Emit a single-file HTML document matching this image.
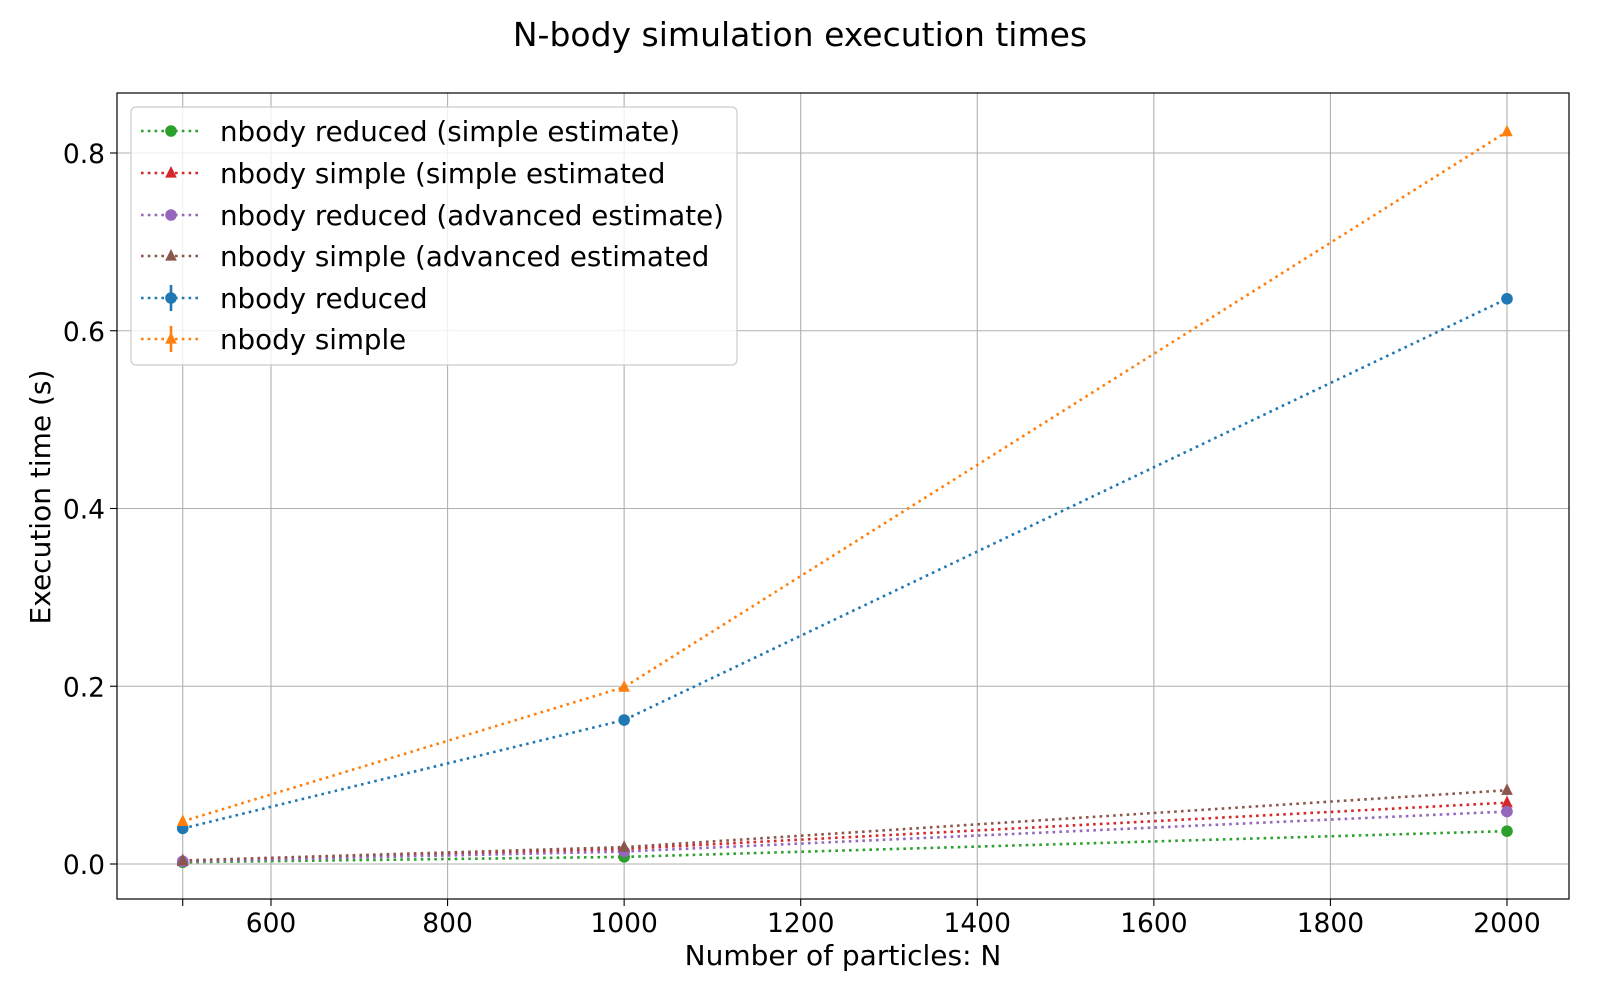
<!DOCTYPE html>
<html><head><meta charset="utf-8"><style>
body{margin:0;background:#fff}
svg text{font-family:"DejaVu Sans","Liberation Sans",sans-serif;fill:#000}
</style></head><body>
<svg id="chart" width="1600" height="1000" xmlns="http://www.w3.org/2000/svg">
<rect width="1600" height="1000" fill="#fff"/>
<text x="800" y="46" font-size="33" text-anchor="middle">N-body simulation execution times</text>
<g id="grid"></g>
<g id="series"></g>
<rect x="117" y="93" width="1452" height="806" fill="none" stroke="#000" stroke-width="1.2"/>
<g id="ticks"></g>
<text x="843" y="965" font-size="28" text-anchor="middle">Number of particles: N</text>
<text transform="translate(50,497) rotate(-90)" font-size="28" text-anchor="middle">Execution time (s)</text>
<g id="legend"></g>
</svg>
<script>
const xValues=[500,1000,2000];
const seriesNames=["nbody reduced (simple estimate)","nbody simple (simple estimated","nbody reduced (advanced estimate)","nbody simple (advanced estimated","nbody reduced","nbody simple"];
const greenVals=[0.002,0.008,0.037];
const redVals=[0.003,0.017,0.069];
const purpleVals=[0.003,0.014,0.059];
const brownVals=[0.004,0.019,0.083];
const blueVals=[0.040,0.162,0.636];
const orangeVals=[0.048,0.199,0.824];
const xTicks=[600,800,1000,1200,1400,1600,1800,2000];
const yTicks=[0.0,0.2,0.4,0.6,0.8];

const NS="http://www.w3.org/2000/svg";
function X(v){return 271+(v-600)*(1507-271)/1400;}
function Y(v){return 864-v*888.75;}
function el(t,a,p){const e=document.createElementNS(NS,t);for(const k in a)e.setAttribute(k,a[k]);p.appendChild(e);return e;}
const grid=document.getElementById('grid'),ticks=document.getElementById('ticks'),ser=document.getElementById('series'),leg=document.getElementById('legend');
xTicks.forEach(t=>{
 const g=el('line',{x1:X(t),x2:X(t),y1:93,y2:899,stroke:'#b0b0b0','stroke-width':1.1},grid);
 
 
 el('line',{x1:X(t),x2:X(t),y1:899,y2:906,stroke:'#000','stroke-width':1.1},ticks);
 const l=el('text',{x:X(t),y:932,'font-size':26.5,'text-anchor':'middle'},ticks);l.textContent=t;
 
 
});
el('line',{x1:X(500),x2:X(500),y1:93,y2:899,stroke:'#b0b0b0','stroke-width':1.1},grid);
el('line',{x1:X(500),x2:X(500),y1:899,y2:906,stroke:'#000','stroke-width':1.1},ticks);
yTicks.forEach(t=>{
 const g=el('line',{x1:117,x2:1569,y1:Y(t),y2:Y(t),stroke:'#b0b0b0','stroke-width':1.1},grid);
 
 
 el('line',{x1:110,x2:117,y1:Y(t),y2:Y(t),stroke:'#000','stroke-width':1.1},ticks);
 const l=el('text',{x:105,y:Y(t)+10,'font-size':26.5,'text-anchor':'end'},ticks);l.textContent=t.toFixed(1);
 
 
});
const defs=[
 {v:greenVals,c:'#2ca02c',m:'o',n:'series-green'},
 {v:redVals,c:'#d62728',m:'^',n:'series-red'},
 {v:purpleVals,c:'#9467bd',m:'o',n:'series-purple'},
 {v:brownVals,c:'#8c564b',m:'^',n:'series-brown'},
 {v:blueVals,c:'#1f77b4',m:'o',n:'series-blue',err:true},
 {v:orangeVals,c:'#ff7f0e',m:'^',n:'series-orange',err:true}];
function marker(p,x,y,c,m,s){
 if(m==='o')return el('circle',{cx:x,cy:y,r:s,fill:c},p);
 return el('polygon',{points:`${x},${y-s*1.2} ${x-s},${y+s*0.8} ${x+s},${y+s*0.8}`,fill:c},p);
}
const order=[4,5,0,1,2,3];
order.forEach(i=>{const d=defs[i];
 const g=el('g',{},ser);
 
 
 const pts=xValues.map((x,j)=>X(x)+','+Y(d.v[j])).join(' ');
 el('polyline',{points:pts,fill:'none',stroke:d.c,'stroke-width':2.6,'stroke-dasharray':'2.6,4.2'},g);
 xValues.forEach((x,j)=>{const m=marker(g,X(x),Y(d.v[j]),d.c,d.m,5.8);
  
  });
});
const box=el('rect',{x:131,y:107,width:606,height:258,rx:5,fill:'#fff','fill-opacity':0.8,stroke:'#ccc','stroke-width':1.2},leg);


const rows=[131,173,215,256,298,339];
seriesNames.forEach((nm,i)=>{const d=defs[i];const y=rows[i];
 const g=el('g',{},leg);
 
 
 el('line',{x1:141,x2:201,y1:y,y2:y,stroke:d.c,'stroke-width':2.6,'stroke-dasharray':'2.6,4.2'},g);
 if(d.err)el('line',{x1:171,x2:171,y1:y-13,y2:y+13,stroke:d.c,'stroke-width':2.6},g);
 marker(g,171,y,d.c,d.m,5.8);
 const t=el('text',{x:220,y:y+10,'font-size':27.7},g);t.textContent=nm;
});
</script>
</body></html>
